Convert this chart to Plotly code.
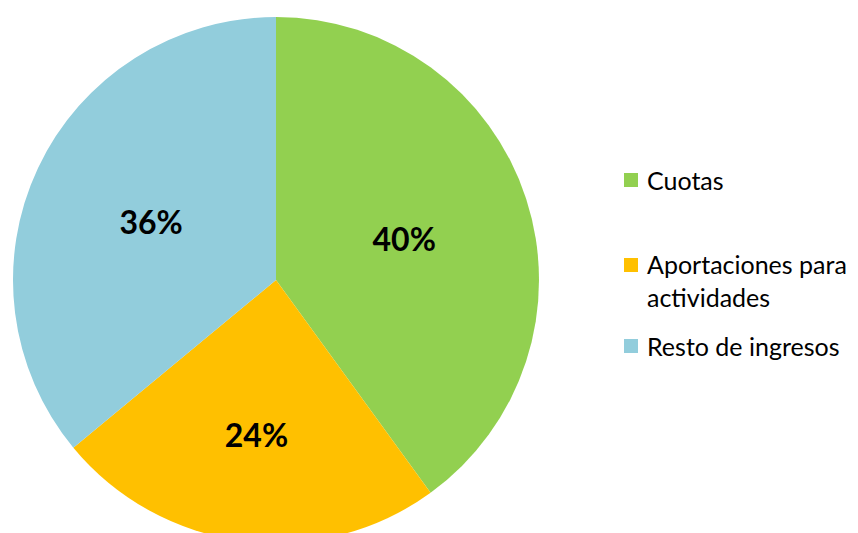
import plotly.graph_objects as go

categories = ["Cuotas", "Aportaciones para actividades", "Resto de ingresos"]
legend_labels = ["Cuotas", "Aportaciones para<br>actividades", "Resto de ingresos"]
values = [40, 24, 36]
colors = ["#92D050", "#FFC000", "#92CDDC"]

W, H = 858, 550
ML, MR, MT, MB = 13, 0, 17, 7
PW, PH = W - ML - MR, H - MT - MB

def px(x):
    return (x - ML) / PW

def py(y):
    return 1 - (y - MT) / PH

fig = go.Figure(go.Pie(
    labels=categories,
    values=values,
    marker=dict(colors=colors, line=dict(width=0)),
    sort=False,
    direction="clockwise",
    rotation=0,
    textinfo="percent",
    texttemplate="%{percent:.0%}",
    textposition="inside",
    insidetextorientation="horizontal",
    insidetextfont=dict(family="Lato", size=32, color="black", weight="bold"),
    showlegend=False,
    hoverinfo="label+percent",
    domain=dict(x=[0, 526 / PW], y=[0, 1]),
))

legend_y = [180, 280.5, 346]
square_y = [180, 265, 346]
shapes = []
annotations = []
for lab, col, ty, sy in zip(legend_labels, colors, legend_y, square_y):
    shapes.append(dict(type="rect", xref="paper", yref="paper",
                       x0=px(624), x1=px(638), y0=py(sy + 7), y1=py(sy - 7),
                       fillcolor=col, line=dict(width=0)))
    annotations.append(dict(text=lab, xref="paper", yref="paper",
                            x=px(645), y=py(ty), xanchor="left", yanchor="middle",
                            align="left", showarrow=False,
                            font=dict(family="Lato", size=25, color="black")))

fig.update_layout(
    width=W, height=H,
    margin=dict(l=ML, r=MR, t=MT, b=MB),
    paper_bgcolor="white",
    plot_bgcolor="white",
    shapes=shapes,
    annotations=annotations,
)

fig.write_html("out.html",
               config={"displayModeBar": False},
               post_script="document.documentElement.style.overflow='hidden';document.body.style.overflow='hidden';document.body.style.margin='0';")
